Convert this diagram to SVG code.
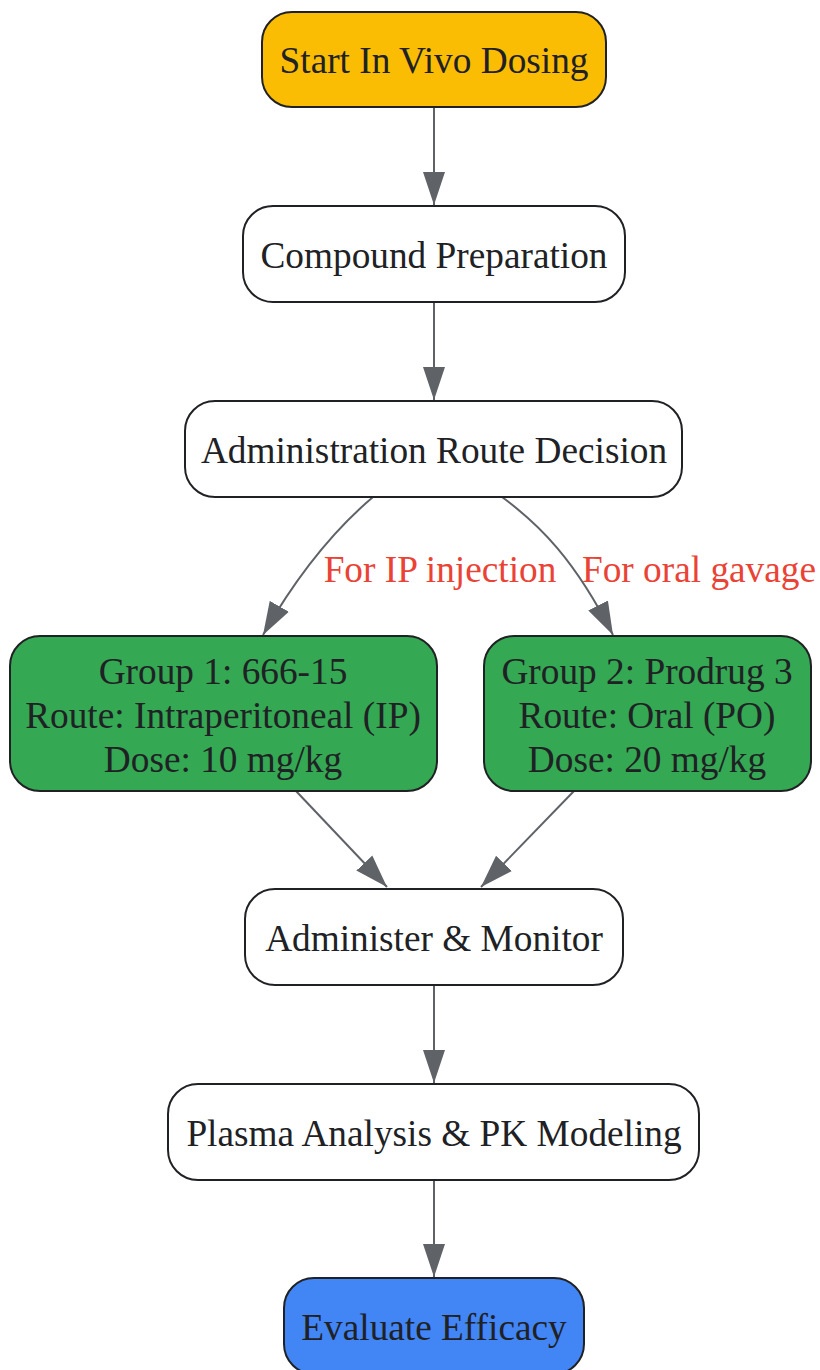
<svg xmlns="http://www.w3.org/2000/svg" width="820" height="1370" viewBox="0 0 820 1370">
<defs>
<marker id="ah" markerWidth="34" markerHeight="24" refX="33" refY="12" orient="auto" markerUnits="userSpaceOnUse">
<path d="M0,1 L33,12 L0,23 Z" fill="#5f6368"/>
</marker>
<style>
.n rect{stroke:#202124;stroke-width:2}
.n text{font-family:"Liberation Serif","Times New Roman",serif;font-size:37.3px;fill:#202124;text-anchor:middle}
.e path{fill:none;stroke:#5f6368;stroke-width:2;marker-end:url(#ah)}
.lbl{font-family:"Liberation Serif","Times New Roman",serif;font-size:37.3px;fill:#ea4335;text-anchor:middle}
</style>
</defs>
<rect width="820" height="1370" fill="#ffffff"/>
<g id="edges" class="e">
<path d="M434,108 L434,205"/>
<path d="M434,302 L434,400"/>
<path d="M373,497 C340,525 300,570 263,635"/>
<path d="M502,497 C540,525 575,560 613,635"/>
<path d="M296,791 L387,887"/>
<path d="M574,791 L481,887"/>
<path d="M434,985 L434,1083"/>
<path d="M434,1180 L434,1277"/>
<text class="lbl" x="440" y="582">For IP injection</text>
<text class="lbl" x="699" y="582">For oral gavage</text>
</g>
<g id="start" class="n">
<rect x="262" y="12" width="344" height="95" rx="30" fill="#fbbc04"/>
<text x="434" y="73">Start In Vivo Dosing</text>
</g>
<g id="prep" class="n">
<rect x="243" y="206" width="382" height="96" rx="30" fill="#ffffff"/>
<text x="434" y="268">Compound Preparation</text>
</g>
<g id="route" class="n">
<rect x="185" y="401" width="497" height="96" rx="30" fill="#ffffff"/>
<text x="434" y="463">Administration Route Decision</text>
</g>
<g id="group1" class="n">
<rect x="10" y="636" width="427" height="155" rx="30" fill="#34a853"/>
<text x="223" y="684">Group 1: 666-15</text>
<text x="223" y="728">Route: Intraperitoneal (IP)</text>
<text x="223" y="772">Dose: 10 mg/kg</text>
</g>
<g id="group2" class="n">
<rect x="484" y="636" width="327" height="155" rx="30" fill="#34a853"/>
<text x="647" y="684">Group 2: Prodrug 3</text>
<text x="647" y="728">Route: Oral (PO)</text>
<text x="647" y="772">Dose: 20 mg/kg</text>
</g>
<g id="administer" class="n">
<rect x="245" y="889" width="378" height="96" rx="30" fill="#ffffff"/>
<text x="434" y="951">Administer &amp; Monitor</text>
</g>
<g id="plasma" class="n">
<rect x="168" y="1084" width="531" height="96" rx="30" fill="#ffffff"/>
<text x="434" y="1146">Plasma Analysis &amp; PK Modeling</text>
</g>
<g id="evaluate" class="n">
<rect x="284" y="1278" width="300" height="96" rx="30" fill="#4285f4"/>
<text x="434" y="1340">Evaluate Efficacy</text>
</g>
</svg>
